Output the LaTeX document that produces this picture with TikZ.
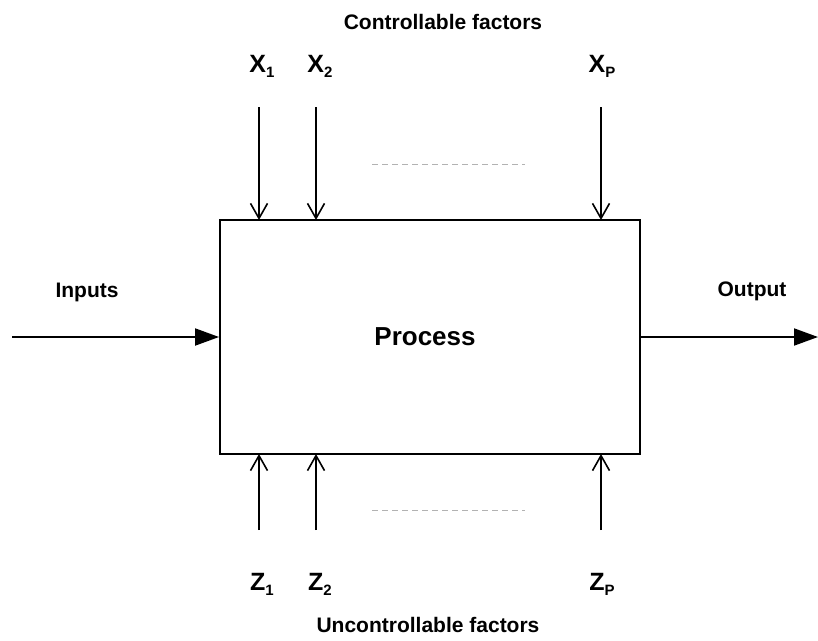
\documentclass[tikz,border=0pt]{standalone}
\usepackage{fontspec}
\setmainfont{Liberation Sans}
\usetikzlibrary{arrows.meta}
\newcommand{\lowsub}[1]{\raisebox{-0.45ex}{\fontsize{15}{16}\selectfont #1}}
\begin{document}
\begin{tikzpicture}[x=1pt,y=-1pt,
  lbl/.style={font=\bfseries\fontsize{21}{24}\selectfont, inner sep=0pt},
  varlbl/.style={font=\bfseries\fontsize{25}{28}\selectfont, inner sep=0pt, anchor=base},
  conn/.style={line width=1.9pt},
  openhead/.style={conn,-{Straight Barb[length=15pt,width=17pt,line width=1.6pt]}},
  fillhead/.style={conn,-{Triangle[length=24pt,width=17pt]}},
  dots/.style={gray!60, line width=0.8pt, dash pattern=on 6pt off 4pt}]
\useasboundingbox (0,0) rectangle (818,640);
\node[draw, line width=1.9pt, minimum width=420pt, minimum height=234pt, inner sep=0pt] (box) at (430,337) {};
\node[lbl, font=\bfseries\fontsize{26}{30}\selectfont] (proc) at (425,337) {Process};
\node[lbl] (ctl) at (443,22) {Controllable factors};
\node[lbl] (unc) at (428,625) {Uncontrollable factors};
\node[lbl] (inp) at (87,292) {Inputs};
\node[lbl] (out) at (752,291) {Output};
\node[varlbl] (x1) at (262,72) {X\lowsub{1}};
\node[varlbl] (x2) at (320,72) {X\lowsub{2}};
\node[varlbl] (xp) at (602,72) {X\lowsub{P}};
\node[varlbl] (z1) at (262,590) {Z\lowsub{1}};
\node[varlbl] (z2) at (320,590) {Z\lowsub{2}};
\node[varlbl] (zp) at (602,590) {Z\lowsub{P}};
\coordinate (xa1) at (259,107); \coordinate (xb1) at (259,220);
\coordinate (xa2) at (316,107); \coordinate (xb2) at (316,220);
\coordinate (xap) at (601,107); \coordinate (xbp) at (601,220);
\coordinate (za1) at (259,530); \coordinate (zb1) at (259,454);
\coordinate (za2) at (316,530); \coordinate (zb2) at (316,454);
\coordinate (zap) at (601,530); \coordinate (zbp) at (601,454);
\coordinate (inS) at (12,337);
\coordinate (outE) at (818,337);
\draw[openhead] (xa1) -- (xb1);
\draw[openhead] (xa2) -- (xb2);
\draw[openhead] (xap) -- (xbp);
\draw[openhead] (za1) -- (zb1);
\draw[openhead] (za2) -- (zb2);
\draw[openhead] (zap) -- (zbp);
\draw[fillhead] (inS) -- (box.west);
\draw[fillhead] (box.east) -- (outE);
\coordinate (d1) at (372,164); \coordinate (d2) at (525,164);
\coordinate (d3) at (372,510); \coordinate (d4) at (525,510);
\draw[dots] (d1) -- (d2);
\draw[dots] (d3) -- (d4);
\end{tikzpicture}
\end{document}
